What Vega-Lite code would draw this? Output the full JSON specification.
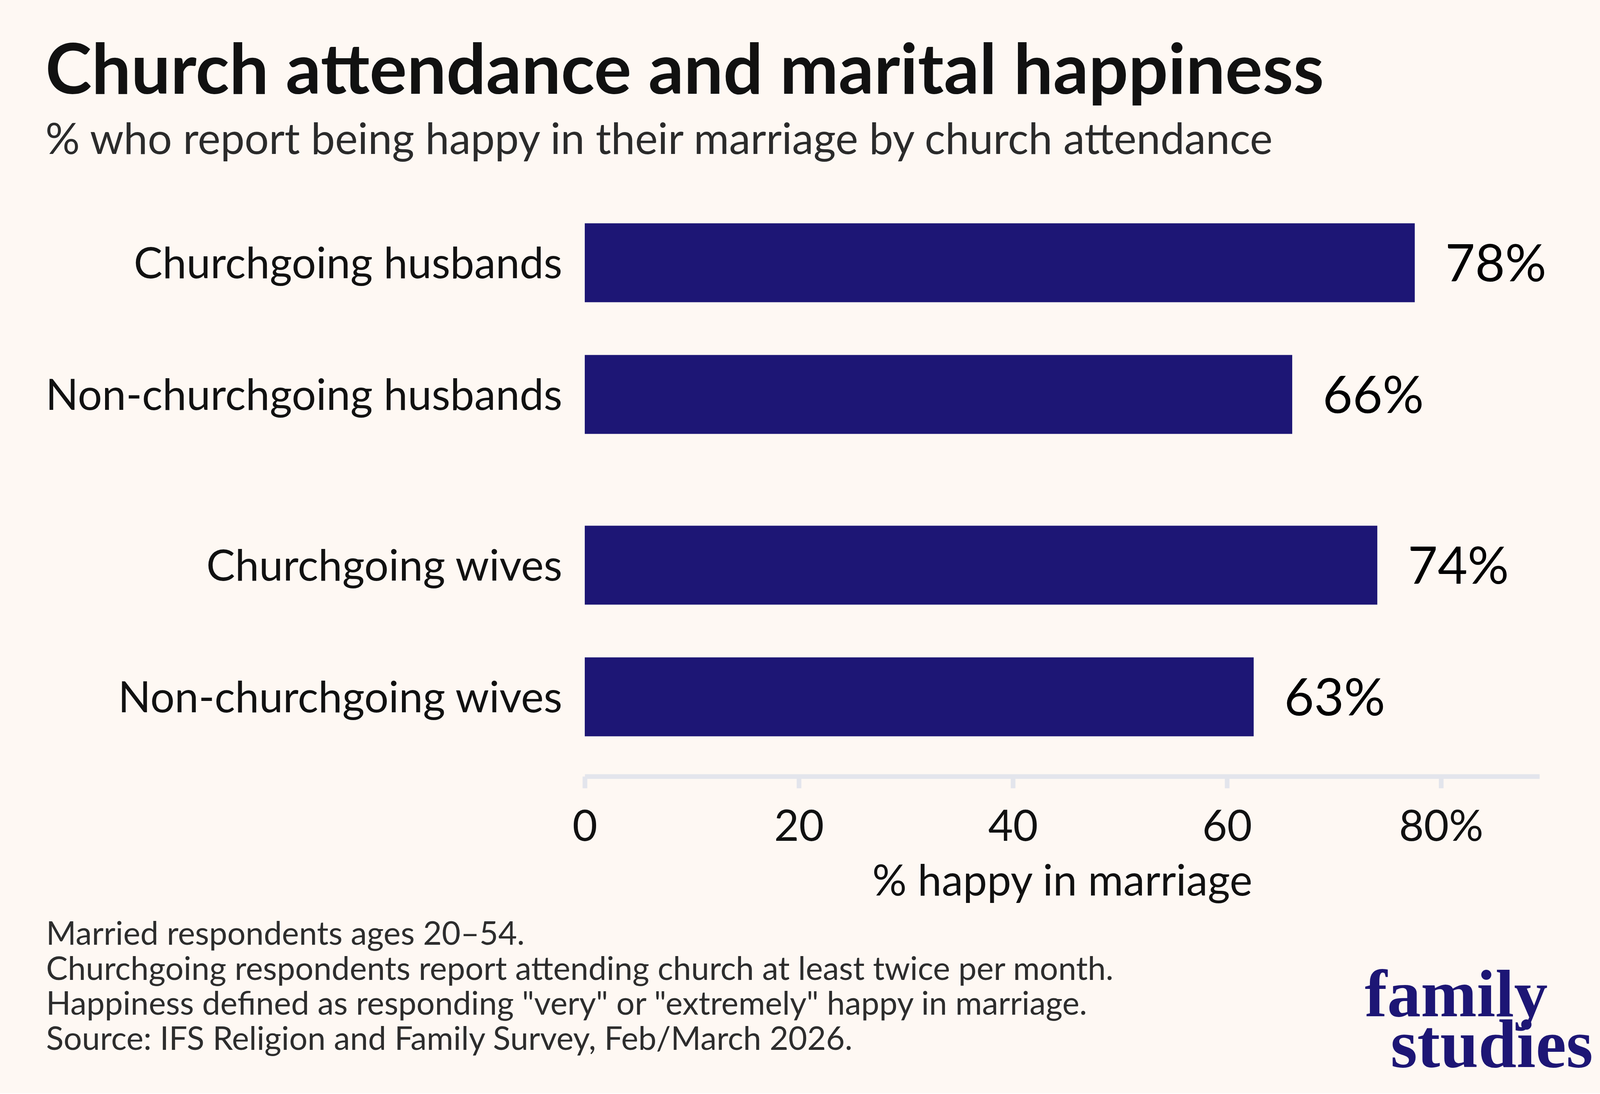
{
  "$schema": "https://vega.github.io/schema/vega-lite/v6.json",
  "background": "#fef8f3",
  "padding": {"left": 116, "top": 97, "right": 84, "bottom": 32},
  "config": {
    "font": "Lato",
    "view": {"stroke": null}
  },
  "title": {
    "text": "Church attendance and marital happiness",
    "subtitle": "% who report being happy in their marriage by church attendance",
    "anchor": "start",
    "font": "Lato",
    "fontSize": 179,
    "fontWeight": "bold",
    "color": "#111111",
    "subtitleFont": "Lato",
    "subtitleFontSize": 110,
    "subtitleColor": "#2b2b2b",
    "subtitlePadding": 29,
    "offset": 86
  },
  "spacing": 39,
  "vconcat": [
    {
      "data": {
        "values": [
          {"group": "Husbands", "category": "Churchgoing husbands", "pct": 77.55, "label": "78%"},
          {"group": "Husbands", "category": "Non-churchgoing husbands", "pct": 66.1, "label": "66%"},
          {"group": "Wives", "category": "Churchgoing wives", "pct": 74.05, "label": "74%"},
          {"group": "Wives", "category": "Non-churchgoing wives", "pct": 62.5, "label": "63%"}
        ]
      },
      "facet": {
        "row": {
          "field": "group",
          "type": "nominal",
          "sort": ["Husbands", "Wives"],
          "header": {"labels": false, "title": null}
        }
      },
      "spacing": {"row": 100},
      "resolve": {"scale": {"y": "independent"}},
      "spec": {
        "width": 2444,
        "height": 674,
        "encoding": {
          "y": {
            "field": "category",
            "type": "nominal",
            "sort": null,
            "title": null,
            "scale": {"paddingInner": 0.4, "paddingOuter": 0.2},
            "axis": {
              "domain": false,
              "ticks": false,
              "tickSize": 0,
              "labelPadding": 58,
              "labelFontSize": 110,
              "labelFont": "Lato",
              "labelColor": "#111111",
              "labelLimit": 2000,
              "labelOffset": 6
            }
          }
        },
        "layer": [
          {
            "mark": {"type": "bar", "color": "#1d1675"},
            "encoding": {
              "x": {
                "field": "pct",
                "type": "quantitative",
                "scale": {"domain": [0, 89.2], "nice": false},
                "axis": {
                  "values": [0, 20, 40, 60, 80],
                  "labelExpr": "datum.value === 80 ? '80%' : datum.label",
                  "grid": false,
                  "offset": 35,
                  "domainColor": "#e3e5ec",
                  "domainWidth": 12,
                  "tickColor": "#e3e5ec",
                  "tickWidth": 12,
                  "tickSize": 30,
                  "labelFlush": false,
                  "labelLimit": 1000,
                  "labelFontSize": 110,
                  "labelFont": "Lato",
                  "labelColor": "#111111",
                  "labelPadding": 47,
                  "title": "% happy in marriage",
                  "titleFont": "Lato",
                  "titleFontSize": 110,
                  "titleFontWeight": "normal",
                  "titleColor": "#111111",
                  "titlePadding": 31
                }
              }
            }
          },
          {
            "mark": {
              "type": "text",
              "align": "left",
              "baseline": "middle",
              "dx": 78,
              "dy": 7,
              "font": "Lato",
              "fontSize": 132,
              "color": "#000000"
            },
            "encoding": {
              "x": {"field": "pct", "type": "quantitative"},
              "text": {"field": "label"}
            }
          }
        ]
      }
    },
    {
      "width": 2581,
      "height": 269,
      "layer": [
        {
          "data": {
            "values": [
              {"line": 1, "note": "Married respondents ages 20–54."},
              {"line": 2, "note": "Churchgoing respondents report attending church at least twice per month."},
              {"line": 3, "note": "Happiness defined as responding \"very\" or \"extremely\" happy in marriage."},
              {"line": 4, "note": "Source: IFS Religion and Family Survey, Feb/March 2026."}
            ]
          },
          "mark": {
            "type": "text",
            "align": "left",
            "baseline": "alphabetic",
            "dx": -1379,
            "font": "Lato",
            "fontSize": 83,
            "color": "#2d2d2d"
          },
          "encoding": {
            "x": {"datum": 0, "type": "quantitative", "scale": {"domain": [0, 1], "nice": false}, "axis": null},
            "y": {"field": "line", "type": "ordinal", "scale": {"type": "point", "padding": 0}, "axis": null},
            "text": {"field": "note"}
          }
        },
        {
          "data": {"values": [{"word": "family"}]},
          "mark": {
            "type": "text",
            "align": "right",
            "baseline": "alphabetic",
            "font": "Liberation Serif",
            "fontWeight": "bold",
            "fontSize": 172,
            "color": "#1d1675",
            "dx": -116,
            "dy": 4
          },
          "encoding": {
            "x": {"datum": 1, "type": "quantitative"},
            "y": {"datum": 3, "type": "ordinal"},
            "text": {"field": "word"}
          }
        },
        {
          "data": {"values": [{"word": "studies"}]},
          "mark": {
            "type": "text",
            "align": "right",
            "baseline": "alphabetic",
            "font": "Liberation Serif",
            "fontWeight": "bold",
            "fontSize": 176,
            "color": "#1d1675",
            "dy": 44
          },
          "encoding": {
            "x": {"datum": 1, "type": "quantitative"},
            "y": {"datum": 4, "type": "ordinal"},
            "text": {"field": "word"}
          }
        }
      ]
    }
  ]
}
